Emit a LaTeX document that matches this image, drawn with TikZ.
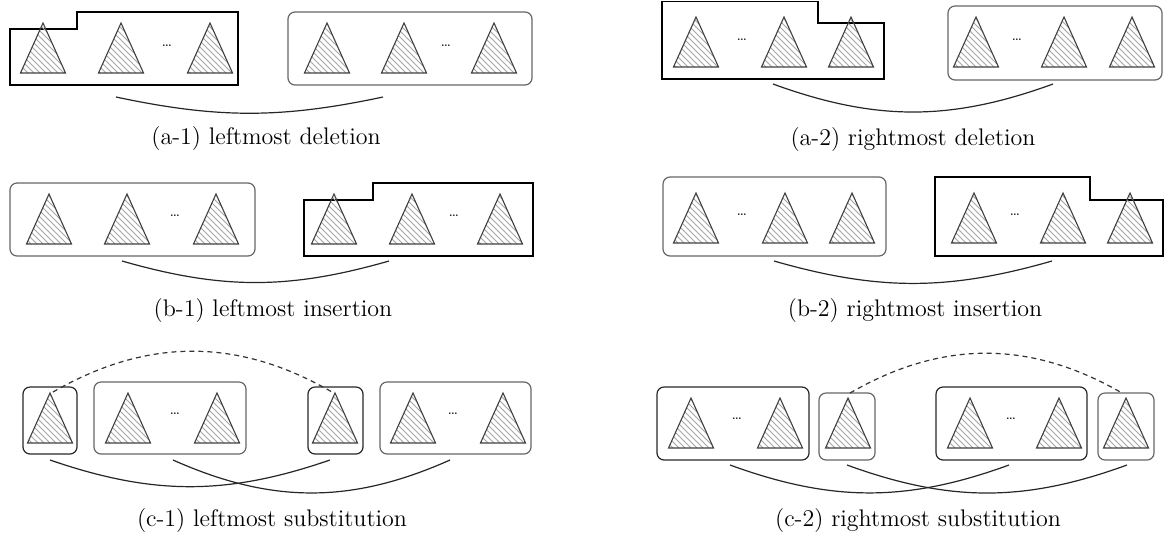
\documentclass[tikz,border=0pt]{standalone}
\usetikzlibrary{patterns}
\tikzset{
  trist/.style={draw=black!75, line width=0.55pt, pattern=north west lines, pattern color=black!35},
  pbox/.style={draw=black, line width=0.65pt},
  rbox/.style={draw=black!60, line width=0.6pt, rounded corners=3.5pt},
  dbox/.style={draw=black!85, line width=0.6pt, rounded corners=3.5pt},
  link/.style={draw=black!85, line width=0.6pt},
  dlink/.style={draw=black!80, line width=0.6pt, dash pattern=on 2.5pt off 2pt},
  capt/.style={font=\fontsize{12}{14}\selectfont, inner sep=0pt},
  dotsst/.style={font=\scriptsize, inner sep=0pt}
}
\newcommand\tri[2]{\draw[trist] (#1,#2) -- ++(-22.5,50) -- ++(45,0) -- cycle;}
\begin{document}
\begin{tikzpicture}[x=0.5pt,y=-0.5pt]
\useasboundingbox (0,0) rectangle (1166,537);
% ---------------- (a-1)
\draw[pbox] (10,29) -- (77,29) -- (77,12) -- (238,12) -- (238,85) -- (10,85) -- cycle;
\draw[rbox] (288,12) rectangle (532,85);
\tri{43}{23}\tri{121}{23}\tri{210}{23}
\tri{327}{23}\tri{404}{23}\tri{494}{23}
\node[dotsst] (a1d1) at (167,46) {\ldots};
\node[dotsst] (a1d2) at (446,46) {\ldots};
\coordinate (a1s) at (116,97); \coordinate (a1e) at (383,97);
\draw[link] (a1s) to[bend right=12] (a1e);
\node[capt] (a1c) at (266,139) {(a-1) leftmost deletion};
% ---------------- (a-2)
\draw[pbox] (662,1.5) -- (818,1.5) -- (818,23) -- (884,23) -- (884,79) -- (662,79) -- cycle;
\draw[rbox] (948,6) rectangle (1162,80);
\tri{696}{17}\tri{784}{17}\tri{851}{17}
\tri{976}{17}\tri{1064}{17}\tri{1132}{17}
\node[dotsst] (a2d1) at (742,40) {\ldots};
\node[dotsst] (a2d2) at (1017,40) {\ldots};
\coordinate (a2s) at (773,84); \coordinate (a2e) at (1053,84);
\draw[link] (a2s) to[bend right=20] (a2e);
\node[capt] (a2c) at (913,140) {(a-2) rightmost deletion};
% ---------------- (b-1)
\draw[rbox] (10,183) rectangle (255,256);
\draw[pbox] (304,200) -- (373,200) -- (373,183) -- (533,183) -- (533,256) -- (304,256) -- cycle;
\tri{49}{194}\tri{127}{194}\tri{216}{194}
\tri{334}{194}\tri{412}{194}\tri{500}{194}
\node[dotsst] (b1d1) at (175,216) {\ldots};
\node[dotsst] (b1d2) at (454,216) {\ldots};
\coordinate (b1s) at (122,261); \coordinate (b1e) at (389,261);
\draw[link] (b1s) to[bend right=16] (b1e);
\node[capt] (b1c) at (273,311) {(b-1) leftmost insertion};
% ---------------- (b-2)
\draw[rbox] (663,177) rectangle (886,256);
\draw[pbox] (935,177) -- (1090,177) -- (1090,200) -- (1163,200) -- (1163,256) -- (935,256) -- cycle;
\tri{696}{193}\tri{785}{193}\tri{852}{193}
\tri{974}{193}\tri{1063}{193}\tri{1130}{193}
\node[dotsst] (b2d1) at (742,215) {\ldots};
\node[dotsst] (b2d2) at (1015,215) {\ldots};
\coordinate (b2s) at (774,261); \coordinate (b2e) at (1052,261);
\draw[link] (b2s) to[bend right=16] (b2e);
\node[capt] (b2c) at (915,311) {(b-2) rightmost insertion};
% ---------------- (c-1)
\draw[dbox] (23,387) rectangle (77,454);
\draw[rbox] (94,382) rectangle (246,454);
\draw[dbox] (308,387) rectangle (363,454);
\draw[rbox] (380,382) rectangle (531,454);
\tri{50}{393}\tri{128}{393}\tri{217}{393}
\tri{335}{393}\tri{413}{393}\tri{503}{393}
\node[dotsst] (c1d1) at (175,414) {\ldots};
\node[dotsst] (c1d2) at (453,414) {\ldots};
\coordinate (c1t1) at (53,392); \coordinate (c1t2) at (332,392);
\draw[dlink] (c1t1) to[bend left=30] (c1t2);
\coordinate (c1a) at (50,460); \coordinate (c1b) at (330,460);
\coordinate (c1c) at (173,460); \coordinate (c1d) at (450,460);
\draw[link] (c1a) to[bend right=19] (c1b);
\draw[link] (c1c) to[bend right=24] (c1d);
\node[capt] (c1cap) at (272,520) {(c-1) leftmost substitution};
% ---------------- (c-2)
\draw[dbox] (657,387) rectangle (809,460);
\draw[rbox] (819,393) rectangle (875,460);
\draw[dbox] (936,387) rectangle (1087,460);
\draw[rbox] (1098,393) rectangle (1154,460);
\tri{691}{398}\tri{780}{398}\tri{848}{398}
\tri{970}{398}\tri{1059}{398}\tri{1126}{398}
\node[dotsst] (c2d1) at (737,419) {\ldots};
\node[dotsst] (c2d2) at (1011,419) {\ldots};
\coordinate (c2t1) at (850,393); \coordinate (c2t2) at (1122,393);
\draw[dlink] (c2t1) to[bend left=30] (c2t2);
\coordinate (c2a) at (730,465); \coordinate (c2b) at (1009,465);
\coordinate (c2c) at (847,465); \coordinate (c2d) at (1127,465);
\draw[link] (c2a) to[bend right=20] (c2b);
\draw[link] (c2c) to[bend right=20] (c2d);
\node[capt] (c2cap) at (918,520) {(c-2) rightmost substitution};
\end{tikzpicture}
\end{document}
